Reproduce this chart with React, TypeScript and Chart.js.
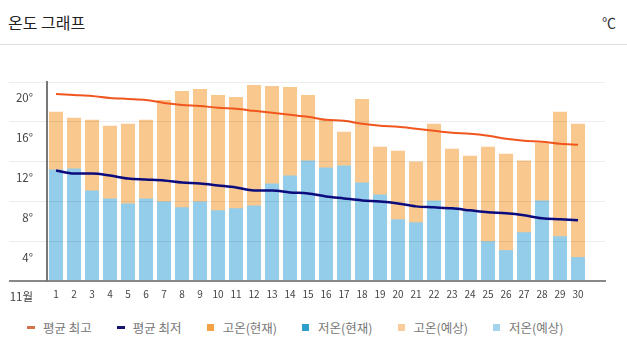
import React, { useEffect, useRef } from 'react';
import { Chart, registerables } from 'chart.js';

Chart.register(...registerables);

const FONT = "'Noto Sans CJK KR', 'Noto Sans', sans-serif";

const dayLabels = ['1', '2', '3', '4', '5', '6', '7', '8', '9', '10', '11', '12', '13', '14', '15', '16', '17', '18', '19', '20', '21', '22', '23', '24', '25', '26', '27', '28', '29', '30', ''];

const forecastHigh = [17.0, 16.4, 16.2, 15.6, 15.8, 16.2, 18.2, 19.1, 19.3, 18.7, 18.5, 19.7, 19.6, 19.5, 18.7, 16.2, 15.0, 18.3, 13.5, 13.1, 12.0, 15.8, 13.3, 12.6, 13.5, 12.8, 12.1, 13.9, 17.0, 15.8];
const forecastLow = [11.2, 11.3, 9.1, 8.3, 7.8, 8.3, 8.0, 7.4, 8.0, 7.1, 7.3, 7.6, 9.8, 10.6, 12.1, 11.4, 11.6, 9.9, 8.7, 6.2, 5.9, 8.1, 7.4, 7.0, 4.0, 3.1, 4.9, 8.1, 4.5, 2.4];
const avgHigh = [18.8, 18.7, 18.6, 18.4, 18.3, 18.2, 17.9, 17.7, 17.6, 17.4, 17.3, 17.1, 16.9, 16.7, 16.5, 16.2, 16.1, 15.8, 15.6, 15.5, 15.3, 15.1, 14.9, 14.8, 14.6, 14.3, 14.1, 14.0, 13.8, 13.7];
const avgLow = [11.1, 10.8, 10.8, 10.6, 10.3, 10.2, 10.1, 9.9, 9.8, 9.6, 9.4, 9.1, 9.1, 8.9, 8.8, 8.5, 8.3, 8.1, 8.0, 7.8, 7.5, 7.4, 7.3, 7.1, 6.9, 6.8, 6.6, 6.3, 6.2, 6.1];
const currentHigh: number[] = [];
const currentLow: number[] = [];

const monthLabel = '11월';
const yTicks = [0, 4, 8, 12, 16, 20];

const COLORS = {
  avgHigh: '#F0561D',
  avgLow: '#0B0B7E',
  curHigh: '#F5A245',
  curLow: '#2E9FCB',
  fcHigh: '#F9C88F',
  fcLow: '#93CDEA',
};

const legendItems = [
  { label: '평균 최고', color: '#D0724A', type: 'line' },
  { label: '평균 최저', color: '#14146E', type: 'line' },
  { label: '고온(현재)', color: COLORS.curHigh, type: 'box' },
  { label: '저온(현재)', color: COLORS.curLow, type: 'box' },
  { label: '고온(예상)', color: '#F9CC9C', type: 'box' },
  { label: '저온(예상)', color: '#A3D4EC', type: 'box' },
];

export default function App() {
  const ref = useRef<HTMLCanvasElement | null>(null);

  useEffect(() => {
    document.body.style.margin = '0';
    const canvas = ref.current;
    if (!canvas) return;
    const chart = new Chart(canvas, {
      data: {
        labels: dayLabels,
        datasets: [
          {
            type: 'line',
            label: '평균 최고',
            data: avgHigh,
            borderColor: COLORS.avgHigh,
            backgroundColor: COLORS.avgHigh,
            borderWidth: 2,
            pointRadius: 0,
            cubicInterpolationMode: 'monotone',
            order: 0,
          },
          {
            type: 'line',
            label: '평균 최저',
            data: avgLow,
            borderColor: COLORS.avgLow,
            backgroundColor: COLORS.avgLow,
            borderWidth: 2.5,
            pointRadius: 0,
            cubicInterpolationMode: 'monotone',
            order: 0,
          },
          { type: 'bar', label: '고온(현재)', data: currentHigh, backgroundColor: COLORS.curHigh, order: 2 },
          { type: 'bar', label: '저온(현재)', data: currentLow, backgroundColor: COLORS.curLow, order: 1 },
          { type: 'bar', label: '고온(예상)', data: forecastHigh, backgroundColor: COLORS.fcHigh, order: 2 },
          { type: 'bar', label: '저온(예상)', data: forecastLow, backgroundColor: COLORS.fcLow, order: 1 },
        ],
      } as any,
      options: {
        responsive: false,
        animation: false,
        events: [],
        datasets: { bar: { categoryPercentage: 1, barPercentage: 0.78 } } as any,
        layout: { padding: { top: 37, right: 22, left: 0, bottom: 0 } },
        plugins: { legend: { display: false }, tooltip: { enabled: false } },
        scales: {
          x: {
            stacked: true,
            offset: true,
            grid: { display: false, drawTicks: false },
            border: { display: true, color: '#888', width: 2, z: 1 },
            ticks: { color: '#444', font: { size: 10, family: FONT }, padding: 7, maxRotation: 0, autoSkip: false },
            afterFit: (s: any) => { s.height = 29; },
          },
          y: {
            stacked: false,
            min: 0,
            max: 20,
            afterBuildTicks: (s: any) => { s.ticks = yTicks.map((v) => ({ value: v })); },
            ticks: {
              stepSize: 4,
              callback: (v: any) => (v === 0 ? monthLabel : v + '°'),
              labelOffset: 16,
              padding: -24,
              color: '#444',
              font: { size: 11.5, family: FONT },
            },
            grid: {
              color: (c: any) => (c.tick && c.tick.value === 0 ? '#888' : 'rgba(0,0,0,0.07)'),
              lineWidth: (c: any) => (c.tick && c.tick.value === 0 ? 2 : 1),
              tickLength: 38,
              drawTicks: true,
              z: 1,
            },
            border: { display: true, color: '#777', width: 2, z: 1 },
            afterFit: (s: any) => { s.width = 47; },
          },
        },
      } as any,
    });
    return () => chart.destroy();
  }, []);

  return (
    <div style={{ width: 627, fontFamily: FONT }}>
      <div
        style={{
          height: 44,
          borderBottom: '1px solid #dddddd',
          display: 'flex',
          alignItems: 'center',
          justifyContent: 'space-between',
          padding: '0 11px 0 8px',
          boxSizing: 'content-box',
        }}
      >
        <span style={{ fontSize: 16, color: '#222' }}>온도 그래프</span>
        <span style={{ fontSize: 14, color: '#333' }}>℃</span>
      </div>
      <canvas ref={ref} width={627} height={265} style={{ display: 'block', width: 627, height: 265 }} />
      <div style={{ display: 'flex', alignItems: 'center', height: 34, paddingLeft: 27, fontSize: 12.5, color: '#777' }}>
        {legendItems.map((it) => (
          <div key={it.label} style={{ display: 'flex', alignItems: 'center', marginRight: 25 }}>
            {it.type === 'line' ? (
              <span style={{ display: 'inline-block', width: 8, height: 3, background: it.color, marginRight: 8 }} />
            ) : (
              <span style={{ display: 'inline-block', width: 7, height: 7, background: it.color, marginRight: 9 }} />
            )}
            <span>{it.label}</span>
          </div>
        ))}
      </div>
    </div>
  );
}
